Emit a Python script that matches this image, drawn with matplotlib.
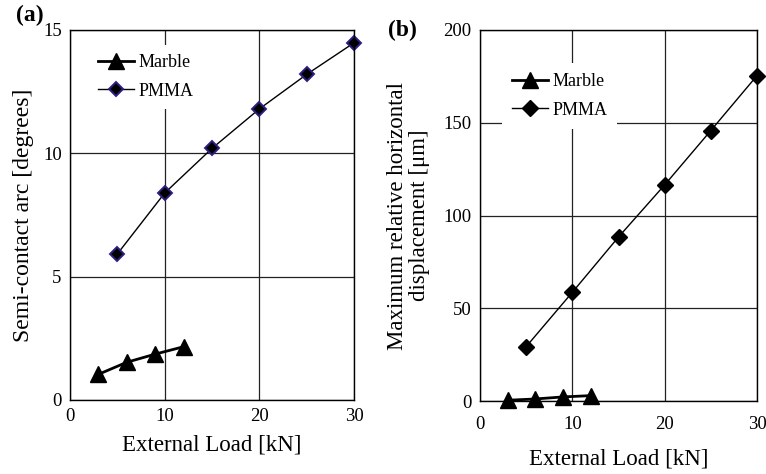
import matplotlib.pyplot as plt

plt.rcParams['font.family'] = ['Liberation Serif', 'DejaVu Serif']

# panel (a) semi-contact arc
marble_load = [3, 6, 9, 12]
marble_arc = [1.04, 1.53, 1.86, 2.16]
pmma_load = [5, 10, 15, 20, 25, 30]
pmma_arc = [5.92, 8.39, 10.2, 11.8, 13.2, 14.48]

# panel (b) max relative horizontal displacement
marble_disp = [0.4, 1.1, 2.2, 2.9]
pmma_disp = [29.3, 58.6, 88.4, 116.5, 145.8, 175.4]

fig = plt.figure(figsize=(7.66, 4.74), dpi=100)
ax1 = fig.add_axes([70/766, 1 - 400/474, 284/766, 370/474])
ax2 = fig.add_axes([480/766, 1 - 401/474, 277/766, 371/474])

for ax in (ax1, ax2):
    ax.grid(True, color='#222222', linewidth=0.9)
    ax.set_axisbelow(True)
    ax.tick_params(length=0, labelsize=13.5, pad=6)
    for s in ax.spines.values():
        s.set_linewidth(1.0)
    ax.set_xlim(0, 30)
    ax.set_xticks([0, 10, 20, 30])

# (a)
ax1.plot(marble_load, marble_arc, color='black', lw=2.0, marker='^', ms=11,
         label='Marble')
ax1.plot(pmma_load, pmma_arc, color='black', lw=1.0, marker='D', ms=7.5,
         mfc='black', mec='#2b1f80', mew=1.4, label='PMMA', clip_on=False)
ax1.set_ylim(0, 15)
ax1.set_yticks([0, 5, 10, 15])
ax1.tick_params(axis='x', pad=6)
ax1.set_xlabel('External Load [kN]', fontsize=16.5)
ax1.xaxis.set_label_coords(0.5, -34/370)
ax1.set_ylabel('Semi-contact arc [degrees]', fontsize=17)
ax1.yaxis.set_label_coords(-36/284, 0.5)
ax1.legend(loc='upper left', bbox_to_anchor=(19/284, 1 - 15/370), frameon=True,
           edgecolor='none', facecolor='white', framealpha=1,
           fontsize=13, handlelength=2.0, borderpad=0.5, borderaxespad=0,
           labelspacing=0.65, handletextpad=0.25)
fig.text(16/766, 1 - 15/474, '(a)', fontsize=17, fontweight='bold', va='center')

# (b)
ax2.plot(marble_load, marble_disp, color='black', lw=2.0, marker='^', ms=11,
         label='Marble', clip_on=False)
ax2.plot(pmma_load, pmma_disp, color='black', lw=1.0, marker='D', ms=8,
         label='PMMA', clip_on=False)
ax2.set_ylim(0, 200)
ax2.set_yticks([0, 50, 100, 150, 200])
ax2.tick_params(axis='x', pad=11)
ax2.set_xlabel('External Load [kN]', fontsize=16.5)
ax2.xaxis.set_label_coords(0.5, -48/371)
ax2.set_ylabel('Maximum relative horizontal\ndisplacement [\u03bcm]',
               fontsize=16.5, linespacing=1.05)
ax2.yaxis.set_label_coords(-50/277, 0.5)
ax2.legend(loc='upper left', bbox_to_anchor=(22/277, 1 - 33/371), frameon=True,
           edgecolor='none', facecolor='white', framealpha=1,
           fontsize=13, handlelength=2.0, borderpad=0.55, borderaxespad=0,
           labelspacing=0.65, handletextpad=0.25)
fig.text(388/766, 1 - 30/474, '(b)', fontsize=17, fontweight='bold', va='center')

fig.savefig('out.png', dpi=100)
